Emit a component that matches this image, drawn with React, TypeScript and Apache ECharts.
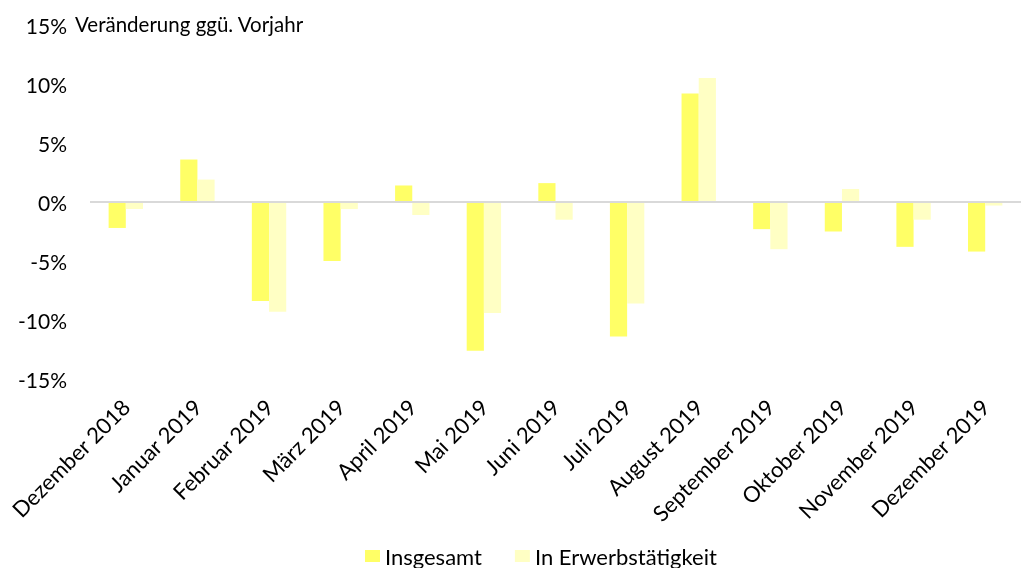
import React, { useEffect, useRef } from "react";
import * as echarts from "echarts";

const categories = [
  "Dezember 2018", "Januar 2019", "Februar 2019", "März 2019", "April 2019", "Mai 2019",
  "Juni 2019", "Juli 2019", "August 2019", "September 2019", "Oktober 2019", "November 2019", "Dezember 2019",
];
const insgesamt = [-2.2, 3.6, -8.4, -5.0, 1.4, -12.6, 1.6, -11.4, 9.2, -2.3, -2.5, -3.8, -4.2];
const erwerb = [-0.6, 1.9, -9.3, -0.6, -1.1, -9.4, -1.5, -8.6, 10.5, -4.0, 1.1, -1.5, -0.3];
const yTicks = { min: -15, max: 15, interval: 5 };
const seriesNames = ["Insgesamt", "In Erwerbstätigkeit"];
const titleText = "Veränderung ggü. Vorjahr";

const FONT = "Lato, 'Open Sans', sans-serif";

export default function App() {
  const ref = useRef<HTMLDivElement>(null);
  useEffect(() => {
    if (!ref.current) return;
    const chart = echarts.init(ref.current, null, { renderer: "svg" });
    chart.setOption({
      animation: false,
      textStyle: { fontFamily: FONT },
      grid: { left: 90, right: 11, top: 25, bottom: 189, containLabel: false },
      graphic: [
        {
          type: "text",
          left: 75,
          top: 13,
          style: { text: titleText, fontSize: 20.5, fontFamily: FONT, fill: "#000" },
        },
      ],
      legend: {
        top: 545,
        left: 365,
        padding: 0,
        itemWidth: 15,
        itemHeight: 12,
        itemGap: 33,
        icon: "rect",
        textStyle: { fontSize: 22, color: "#000", fontFamily: FONT },
        data: seriesNames,
      },
      xAxis: {
        type: "category",
        data: categories,
        axisLine: { show: false, onZero: false },
        axisTick: { show: false },
        axisLabel: { rotate: 45, fontSize: 22, color: "#000", margin: 24, interval: 0, fontFamily: FONT },
      },
      yAxis: {
        type: "value",
        min: yTicks.min,
        max: yTicks.max,
        interval: yTicks.interval,
        splitLine: { show: false },
        axisLine: { show: false },
        axisTick: { show: false },
        axisLabel: { formatter: "{value}%", fontSize: 21, color: "#000", margin: 23, fontFamily: FONT },
      },
      series: [
        {
          name: seriesNames[0],
          type: "bar",
          data: insgesamt,
          itemStyle: { color: "#FFFF66" },
          barGap: "0%",
          barCategoryGap: "52%",
          markLine: {
            silent: true,
            symbol: "none",
            label: { show: false },
            lineStyle: { color: "#D9D9D9", width: 2, type: "solid" },
            data: [{ yAxis: 0 }],
          },
        },
        {
          name: seriesNames[1],
          type: "bar",
          data: erwerb,
          itemStyle: { color: "#FFFFC4" },
          barGap: "0%",
          barCategoryGap: "52%",
        },
      ],
    });
    return () => chart.dispose();
  }, []);
  return <div ref={ref} style={{ position: "fixed", left: 0, top: 0, width: 1032, height: 568 }} />;
}
